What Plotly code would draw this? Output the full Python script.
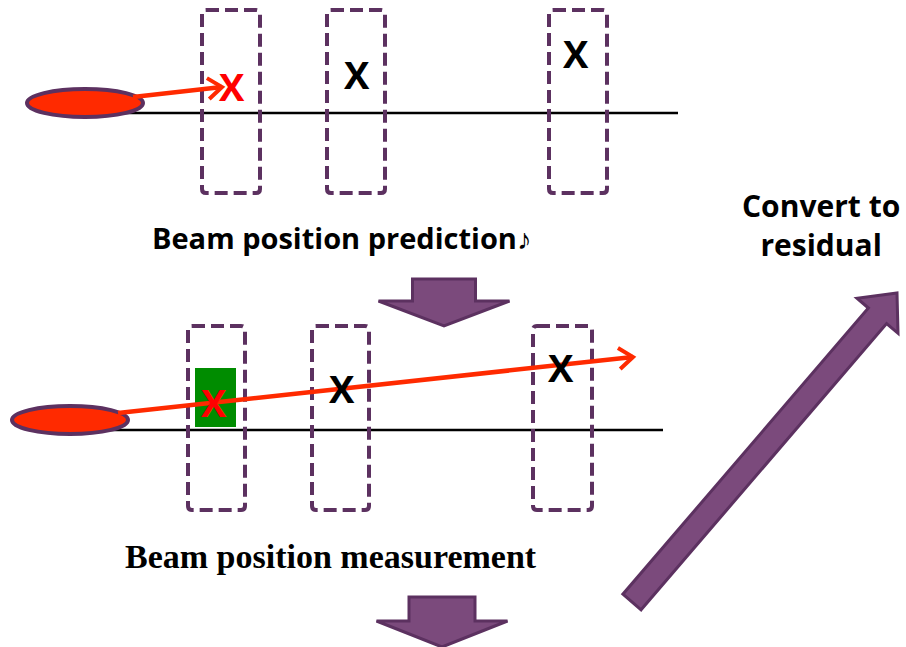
import plotly.graph_objects as go
import math

# ---- diagram data (pixel-space coordinates of the schematic) ----
panel_line_y = [113, 430]                 # beam axis for top / middle panel
panel_line_x = [[85, 678], [70, 663]]
source_center = [[85, 103], [70, 420]]
source_radii = [58, 14]

top_boxes_x = [[202, 260], [327, 385], [549, 607]]
top_boxes_y = [10, 193]
mid_boxes_x = [[188, 245], [312, 369], [533, 592]]
mid_boxes_y = [326, 510]

top_hits = [[232, 86, "red"], [357, 74, "black"], [576, 53, "black"]]
mid_hits = [[214, 402, "red"], [342, 388, "black"], [561, 367, "black"]]

green_rect = [195, 368, 236, 427]

pred_track = [[133, 97], [222, 87]]
meas_track = [[118, 413], [633, 357]]

labels = ["Beam position prediction\u266a", "Beam position measurement", "Convert to<br>residual"]

PURPLE_LINE = "#5C3160"
PURPLE_FILL = "#7B4A7C"
RED = "#FF2A00"

shapes = []

def chevron(p0, p1, size=14, width=4):
    dx, dy = p1[0] - p0[0], p1[1] - p0[1]
    L = math.hypot(dx, dy)
    ux, uy = dx / L, dy / L
    px, py = -uy, ux
    a = (p1[0] - ux * size + px * size * 0.75, p1[1] - uy * size + py * size * 0.75)
    b = (p1[0] - ux * size - px * size * 0.75, p1[1] - uy * size - py * size * 0.75)
    return dict(type="path", xref="x", yref="y",
                path=f"M {a[0]},{a[1]} L {p1[0]},{p1[1]} L {b[0]},{b[1]}",
                line=dict(color=RED, width=width))

def rounded_box(x0, x1, y0, y1, r=4):
    path = (f"M {x0+r},{y0} L {x1-r},{y0} Q {x1},{y0} {x1},{y0+r} L {x1},{y1-r} "
            f"Q {x1},{y1} {x1-r},{y1} L {x0+r},{y1} Q {x0},{y1} {x0},{y1-r} "
            f"L {x0},{y0+r} Q {x0},{y0} {x0+r},{y0} Z")
    return dict(type="path", xref="x", yref="y", path=path,
                line=dict(color=PURPLE_LINE, width=4, dash="13px,6px"))

# beam axis lines
for (x0, x1), y in zip(panel_line_x, panel_line_y):
    shapes.append(dict(type="line", xref="x", yref="y", x0=x0, x1=x1, y0=y, y1=y,
                       line=dict(color="black", width=2.5)))

# detector boxes
for xs in top_boxes_x:
    shapes.append(rounded_box(xs[0], xs[1], top_boxes_y[0], top_boxes_y[1]))
for xs in mid_boxes_x:
    shapes.append(rounded_box(xs[0], xs[1], mid_boxes_y[0], mid_boxes_y[1]))

# green measurement pad
shapes.append(dict(type="rect", xref="x", yref="y", x0=green_rect[0], y0=green_rect[1],
                   x1=green_rect[2], y1=green_rect[3], fillcolor="#008C00",
                   line=dict(width=0)))

# beam sources
for cx, cy in source_center:
    shapes.append(dict(type="circle", xref="x", yref="y",
                       x0=cx - source_radii[0], x1=cx + source_radii[0],
                       y0=cy - source_radii[1], y1=cy + source_radii[1],
                       fillcolor=RED, line=dict(color=PURPLE_LINE, width=4)))

# tracks
for tr in [pred_track, meas_track]:
    shapes.append(dict(type="line", xref="x", yref="y", x0=tr[0][0], y0=tr[0][1],
                       x1=tr[1][0], y1=tr[1][1], line=dict(color=RED, width=4.5)))
    shapes.append(chevron(tr[0], tr[1]))

# down arrows
def down_arrow(cx, top, shaft_w, head_top, head_w, tip):
    return dict(type="path", xref="x", yref="y",
                path=(f"M {cx-shaft_w/2},{top} L {cx+shaft_w/2},{top} L {cx+shaft_w/2},{head_top} "
                      f"L {cx+head_w/2},{head_top} L {cx},{tip} L {cx-head_w/2},{head_top} "
                      f"L {cx-shaft_w/2},{head_top} Z"),
                fillcolor=PURPLE_FILL, line=dict(color=PURPLE_LINE, width=3))

shapes.append(down_arrow(444, 279, 63, 301, 131, 326))
shapes.append(down_arrow(442, 597, 66, 621, 131, 647))

# diagonal arrow
tail = (632, 602)
tip = (897, 293)
dx, dy = tip[0] - tail[0], tip[1] - tail[1]
L = math.hypot(dx, dy)
ux, uy = dx / L, dy / L
px, py = -uy, ux
sw, hw, hl = 12, 27, 30
bx, by = tip[0] - ux * hl, tip[1] - uy * hl
pts = [
    (tail[0] + px * sw, tail[1] + py * sw),
    (bx + px * sw, by + py * sw),
    (bx + px * hw, by + py * hw),
    tip,
    (bx - px * hw, by - py * hw),
    (bx - px * sw, by - py * sw),
    (tail[0] - px * sw, tail[1] - py * sw),
]
path = "M " + " L ".join(f"{x:.1f},{y:.1f}" for x, y in pts) + " Z"
shapes.append(dict(type="path", xref="x", yref="y", path=path,
                   fillcolor=PURPLE_FILL, line=dict(color=PURPLE_LINE, width=3)))

annotations = []
for x, y, c in top_hits + mid_hits:
    annotations.append(dict(x=x, y=y, xref="x", yref="y", text="<b>X</b>", showarrow=False,
                            font=dict(family="Open Sans", size=38, color="red" if c == "red" else "black")))

annotations.append(dict(x=341, y=237, xref="x", yref="y", text="<b>" + labels[0] + "</b>",
                        showarrow=False, font=dict(family="Open Sans", size=29, color="black")))
annotations.append(dict(x=331, y=556, xref="x", yref="y", text="<b>" + labels[1] + "</b>",
                        showarrow=False, font=dict(family="Liberation Serif", size=34, color="black")))
annotations.append(dict(x=821, y=225, xref="x", yref="y", text="<b>" + labels[2] + "</b>",
                        showarrow=False, font=dict(family="Open Sans", size=30, color="black"),
                        align="center"))

fig = go.Figure(go.Scatter(x=[], y=[]))
fig.update_layout(
    width=906, height=647, margin=dict(l=0, r=0, t=0, b=0),
    paper_bgcolor="white", plot_bgcolor="white",
    xaxis=dict(range=[0, 906], visible=False, fixedrange=True),
    yaxis=dict(range=[647, 0], visible=False, fixedrange=True),
    shapes=shapes, annotations=annotations, showlegend=False,
)
fig.write_html("out.html", config={"displayModeBar": False},
               post_script="document.body.style.margin='0px';document.body.style.overflow='hidden';")
